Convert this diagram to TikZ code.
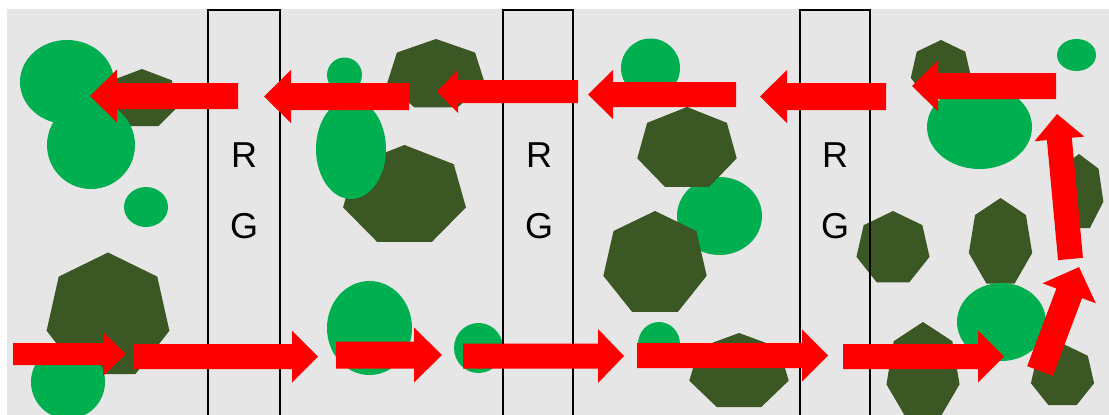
\documentclass[tikz,border=0pt]{standalone}
\usepackage{fontspec}
\setmainfont{Liberation Sans}
\definecolor{bg}{HTML}{E6E6E6}
\definecolor{grn}{HTML}{00B050}
\definecolor{leaf}{HTML}{3B5723}
\definecolor{arr}{HTML}{FF0000}
\newcommand{\hept}[4]{\fill[leaf] ({#1},{#2-#4}) \foreach \k in {1,...,6}{ -- ({#1+#3*cos(90+\k*360/7)},{#2-#4*sin(90+\k*360/7)}) } -- cycle;}
\newcommand{\blob}[4]{\fill[grn] (#1,#2) ellipse [x radius=#3, y radius=#4];}
\newcommand{\barrow}[7]{\fill[arr, shift={(#1,#2)}, rotate=#3] (0,-#5) -- ({#4-#7},-#5) -- ({#4-#7},-#6) -- (#4,0) -- ({#4-#7},#6) -- ({#4-#7},#5) -- (0,#5) -- cycle;}
\begin{document}
\begin{tikzpicture}[x=1pt,y=-1pt,
  panel/.style={draw=black, line width=2pt},
  lbl/.style={font=\fontsize{36}{40}\selectfont, inner sep=0pt, text=black}]
\useasboundingbox (0,0) rectangle (1109,415);
\fill[bg] (7,9) rectangle (1109,415);
% panel 1
\hept{142}{99}{38}{30}
\blob{67}{82}{47}{42}
\blob{91}{145}{44}{44}
\blob{146}{207}{22}{20}
\hept{108}{316.5}{63}{64}
\blob{68}{382}{37}{37}
% panel 2
\blob{344.5}{75}{17.5}{17.5}
\hept{436}{75}{50}{36}
\hept{404.5}{196}{63}{51}
\blob{351}{149}{35}{50}
\blob{369.5}{328}{42.5}{47}
\blob{478.5}{348}{24.5}{25}
% panel 3
\blob{650.5}{68}{29.5}{29.5}
\blob{719.5}{216}{42.5}{39}
\hept{687}{149}{51}{42}
\hept{655}{264}{53}{53}
\blob{659}{344}{21}{22}
\hept{739}{372}{51}{39}
% panel 4
\hept{941}{71}{31}{31}
\blob{979.5}{127}{52.5}{42}
\blob{1076.5}{55}{19.5}{16}
\hept{1079}{193}{25}{39}
\hept{893}{248.5}{37.5}{37.5}
\hept{1000.5}{243}{32.5}{45}
\blob{1001.5}{322}{44.5}{39}
\hept{923}{373}{37.5}{51}
\hept{1062.5}{376}{32.4}{32.4}
% gates
\draw[panel] (208,10) rectangle (280,430);
\draw[panel] (503,10) rectangle (573,430);
\draw[panel] (800,10) rectangle (870,430);
\node[lbl] (r1) at (244,155) {R};
\node[lbl] (g1) at (244,226) {G};
\node[lbl] (r2) at (539,155) {R};
\node[lbl] (g2) at (539,226) {G};
\node[lbl] (r3) at (835,155) {R};
\node[lbl] (g3) at (835,226) {G};
% bottom arrows
\barrow{13}{354}{0}{113}{11}{22}{23}
\barrow{133}{356.5}{0}{185}{12.5}{26}{26}
\barrow{336}{355}{0}{106}{13.5}{27.5}{28}
\barrow{463}{356}{0}{161}{12.5}{27}{26}
\barrow{637}{355.5}{0}{191}{12.5}{26}{26}
\barrow{843}{356.5}{0}{161}{12.5}{26}{26}
% rising arrows
\barrow{1040}{371}{69.4}{111}{13.7}{28.5}{28}
\barrow{1070.5}{259}{95.3}{145.6}{12.5}{25}{25}
% top arrows
\barrow{1056}{86}{180}{144}{13}{25.5}{26}
\barrow{886}{96.5}{180}{126}{13.5}{26.5}{27}
\barrow{736}{94.5}{180}{148}{12.5}{24.5}{25}
\barrow{578}{91.5}{180}{141}{11.5}{21.5}{21}
\barrow{409}{96.5}{180}{145}{13.5}{26.5}{27}
\barrow{238}{96}{180}{148}{13}{26.5}{27}
\end{tikzpicture}
\end{document}
